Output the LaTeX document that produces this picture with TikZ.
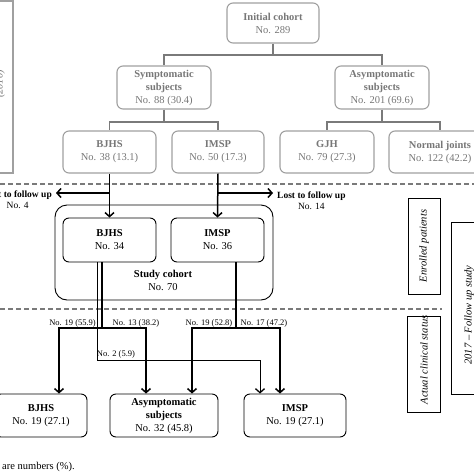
\documentclass[tikz,border=0pt]{standalone}
\usepackage{fontspec}
\setmainfont{Liberation Serif}
\usetikzlibrary{arrows.meta}
\definecolor{gtext}{HTML}{777777}
\definecolor{gbord}{HTML}{A0A0A0}
\definecolor{gline}{HTML}{7A7A7A}
\begin{document}
\begin{tikzpicture}[x=1pt,y=-1pt,
  every node/.style={font=\fontsize{10.5}{13}\selectfont, align=center, inner sep=0pt},
  gbox/.style={draw=gbord, line width=1.1pt, rounded corners=6pt, text=gtext},
  bbox/.style={draw=black, line width=0.9pt, rounded corners=6pt, text=black},
  gconn/.style={draw=gline, line width=1.6pt},
  thk/.style={draw=black, line width=1.5pt},
  thn/.style={draw=black, line width=0.7pt},
  arr/.style={-{Straight Barb[length=4pt,width=9pt,line width=1.5pt]}},
  arrthin/.style={-{Straight Barb[length=4pt,width=9pt,line width=1.3pt]}},
  sepline/.style={draw=gline, line width=1.1pt, dash pattern=on 5pt off 3pt},
  elab/.style={font=\fontsize{8.5}{10}\selectfont},
  lost/.style={font=\fontsize{9.5}{11}\selectfont},
  sidebox/.style={draw=black, line width=0.8pt},
  sidetext/.style={font=\fontsize{10.5}{13}\itshape, rotate=90}
]
\useasboundingbox (0,0) rectangle (474,474);
\clip (0,0) rectangle (474,474);
\fill[white] (0,0) rectangle (474,474);

% left gray side box
\draw[draw=gbord, line width=1.1pt] (-60,1) rectangle (13,173);
\node[sidetext, text=gtext] (leftlab) at (0,84) {(2010)};

% top part
\node[gbox, minimum width=92pt, minimum height=40pt] (init) at (273,23) {\textbf{Initial cohort}\\No. 289};
\node[gbox, minimum width=94pt, minimum height=43pt] (symp) at (164,87.5) {\textbf{Symptomatic}\\\textbf{subjects}\\No. 88 (30.4)};
\node[gbox, minimum width=94pt, minimum height=43pt] (asymp) at (382,87.5) {\textbf{Asymptomatic}\\\textbf{subjects}\\No. 201 (69.6)};
\node[gbox, minimum width=93pt, minimum height=42pt] (bjhs1) at (109.5,152) {\textbf{BJHS}\\No. 38 (13.1)};
\node[gbox, minimum width=92pt, minimum height=42pt] (imsp1) at (218,152) {\textbf{IMSP}\\No. 50 (17.3)};
\node[gbox, minimum width=94pt, minimum height=42pt] (gjh) at (327,152) {\textbf{GJH}\\No. 79 (27.3)};
\node[gbox, minimum width=102pt, minimum height=42pt] (normal) at (440,152) {\textbf{Normal joints}\\No. 122 (42.2)};

\coordinate (t1) at (273,55);
\draw[gconn] (init.south) -- (t1);
\draw[gconn] (t1) -| (symp.north);
\draw[gconn] (t1) -| (asymp.north);
\coordinate (t2) at (164,122);
\draw[gconn] (symp.south) -- (t2);
\draw[gconn] (t2) -| (bjhs1.north);
\draw[gconn] (t2) -| (imsp1.north);
\coordinate (t3) at (382,122);
\draw[gconn] (asymp.south) -- (t3);
\draw[gconn] (t3) -| (gjh.north);
\draw[gconn] (t3) -| (normal.north);

% dashed separators
\coordinate (d1a) at (0,184); \coordinate (d1b) at (474,184);
\coordinate (d2a) at (0,309); \coordinate (d2b) at (442,309);
\draw[sepline] (d1a) -- (d1b);
\draw[sepline] (d2a) -- (d2b);

% study cohort
\node[draw=black, line width=0.9pt, rounded corners=12pt, minimum width=218pt, minimum height=95pt] (cohort) at (164,252.5) {};
\node[bbox, minimum width=93pt, minimum height=44pt] (bjhs2) at (109.5,240) {\textbf{BJHS}\\No. 34};
\node[bbox, minimum width=93pt, minimum height=44pt] (imsp2) at (217.5,240) {\textbf{IMSP}\\No. 36};
\node (coh) at (163,280) {\textbf{Study cohort}\\No. 70};

\draw[thk,arr] (bjhs1.south) -- (bjhs2.north);
\draw[thk,arr] (imsp1.south) -- (imsp2.north);

\coordinate (l1) at (109.5,193);
\coordinate (l1e) at (56,193);
\coordinate (l2) at (218,193);
\coordinate (l2e) at (273,193);
\draw[thk,arr] (l1) -- (l1e);
\draw[thk,arr] (l2) -- (l2e);
\node[lost, anchor=east] (lostL) at (52,200) {\textbf{Lost to follow up}\\No. 4};
\node[lost, anchor=west] (lostR) at (277,200.5) {\textbf{Lost to follow up}\\No. 14};

% side boxes
\node[sidebox, minimum width=32pt, minimum height=96pt] (enr) at (424,246) {};
\node[sidetext] (enrt) at (424,246) {Enrolled patients};
\node[sidebox, minimum width=33pt, minimum height=96pt] (act) at (424,364) {};
\node[sidetext] (actt) at (424,360) {Actual clinical status};
\draw[sidebox] (451,222) rectangle (520,394);
\node[sidetext] (fut) at (469,315) {2017 -- Follow up study};

% bottom boxes
\node[bbox, minimum width=92pt, minimum height=43pt] (bjhsB) at (41,415.5) {\textbf{BJHS}\\No. 19 (27.1)};
\node[bbox, minimum width=108pt, minimum height=43pt] (asyB) at (164,415.5) {\textbf{Asymptomatic}\\\textbf{subjects}\\No. 32 (45.8)};
\node[bbox, minimum width=102pt, minimum height=43pt] (imspB) at (295,415.5) {\textbf{IMSP}\\No. 19 (27.1)};

% outcome connectors
\coordinate (j1) at (102,328);
\coordinate (j2) at (236,328);
\coordinate (j3) at (260,360);
\draw[thn,arrthin] ([xshift=-12.5pt]bjhs2.south) |- (j3) -- ([xshift=-35pt]imspB.north);
\draw[thk] ([xshift=-7.5pt]bjhs2.south) -- (j1);
\draw[thk,arr] (j1) -| ([xshift=18pt]bjhsB.north);
\draw[thk,arr] (j1) -| ([xshift=-18pt]asyB.north);
\draw[thk] ([xshift=18.5pt]imsp2.south) -- (j2);
\draw[thk,arr] (j2) -| ([xshift=28pt]asyB.north);
\draw[thk,arr] (j2) -| ([xshift=-15pt]imspB.north);

\node[elab, anchor=east] (e1) at (96,323) {No. 19 (55.9)};
\node[elab] (e2) at (136,323) {No. 13 (38.2)};
\node[elab] (e3) at (209,323) {No. 19 (52.8)};
\node[elab] (e4) at (264,323) {No. 17 (47.2)};
\node[elab] (e5) at (116,354) {No. 2 (5.9)};

\node[anchor=west] (foot) at (2,467) {are numbers (\%).};
\end{tikzpicture}
\end{document}
